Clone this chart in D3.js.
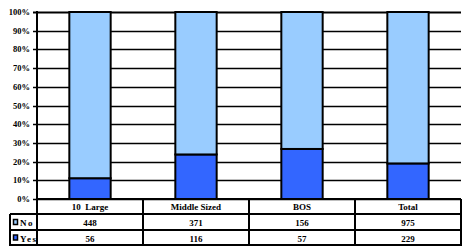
<!DOCTYPE html>
<html>
<head>
<meta charset="utf-8">
<script src="https://cdn.jsdelivr.net/npm/d3@7"></script>
<style>
  body { margin: 0; background: #fff; }
  text { font-family: "Liberation Serif", "Times New Roman", serif; font-weight: bold; fill: #000; }
</style>
</head>
<body>
<div id="chart"></div>
<script>
var width = 462,
    height = 246;

// data
var categories = ["10  Large", "Middle Sized", "BOS", "Total"];
var noCounts = [448, 371, 156, 975];
var yesCounts = [56, 116, 57, 229];
var seriesNames = ["No", "Yes"];
var tickValues = [0, 0.1, 0.2, 0.3, 0.4, 0.5, 0.6, 0.7, 0.8, 0.9, 1];

var colors = { No: "#99ccff", Yes: "#3366ff" };

var plotLeft = 37, plotRight = 461, plotTop = 12, plotBottom = 199;

var x = d3.scaleBand()
  .domain(categories)
  .range([plotLeft, plotRight])
  .paddingInner(0.61)
  .paddingOuter(0.305);

var y = d3.scaleLinear()
  .domain([0, 1])
  .range([plotBottom, plotTop]);

var cols = d3.scaleBand().domain(categories).range([plotLeft, plotRight]);

var svg = d3.select("#chart").append("svg")
  .attr("width", width)
  .attr("height", height);

// gridlines
svg.append("g")
  .selectAll("line")
  .data(tickValues)
  .enter().append("line")
  .attr("x1", plotLeft - 4)
  .attr("x2", plotRight)
  .attr("y1", function(d) { return Math.round(y(d)) + 0.5; })
  .attr("y2", function(d) { return Math.round(y(d)) + 0.5; })
  .attr("stroke", "#000")
  .attr("stroke-width", function(d) { return d == 1 ? 2 : 1.4; });

// y tick labels
svg.append("g")
  .selectAll("text")
  .data(tickValues)
  .enter().append("text")
  .attr("x", plotLeft - 7)
  .attr("y", function(d) { return y(d) + 3; })
  .attr("text-anchor", "end")
  .style("font-size", "8.5px")
  .text(function(d) { return Math.round(d * 100) + "%"; });

// stacked percentages
var rows = categories.map(function(c, i) {
  var tot = noCounts[i] + yesCounts[i];
  return { cat: c, Yes: yesCounts[i] / tot, No: noCounts[i] / tot };
});
var stack = d3.stack().keys(["Yes", "No"])(rows);

svg.append("g")
  .selectAll("g")
  .data(stack)
  .enter().append("g")
  .attr("fill", function(d) { return colors[d.key]; })
  .selectAll("rect")
  .data(function(d) { return d; })
  .enter().append("rect")
  .attr("x", function(d) { return x(d.data.cat); })
  .attr("width", x.bandwidth())
  .attr("y", function(d) { return y(d[1]); })
  .attr("height", function(d) { return y(d[0]) - y(d[1]); })
  .attr("stroke", "#000")
  .attr("stroke-width", 2);

// left axis line
svg.append("line")
  .attr("x1", plotLeft).attr("x2", plotLeft)
  .attr("y1", plotTop - 1).attr("y2", height)
  .attr("stroke", "#000").attr("stroke-width", 2);

// data table
var table = svg.append("g");
var rowLines = [plotBottom, 214, 230, 245];
table.selectAll("line.h")
  .data(rowLines)
  .enter().append("line")
  .attr("x1", function(d, i) { return i == 0 ? plotLeft : 10; })
  .attr("x2", plotRight)
  .attr("y1", function(d) { return d; })
  .attr("y2", function(d) { return d; })
  .attr("stroke", "#000")
  .attr("stroke-width", 2);

var vx = categories.slice(1).map(function(c) { return cols(c); }).concat([plotRight]);
table.selectAll("line.v")
  .data(vx)
  .enter().append("line")
  .attr("x1", function(d) { return d; })
  .attr("x2", function(d) { return d; })
  .attr("y1", plotBottom)
  .attr("y2", height)
  .attr("stroke", "#000")
  .attr("stroke-width", 2);

table.append("line")
  .attr("x1", 10).attr("x2", 10)
  .attr("y1", 214).attr("y2", height)
  .attr("stroke", "#000").attr("stroke-width", 2);

table.selectAll("text.cat")
  .data(categories)
  .enter().append("text")
  .attr("x", function(d) { return cols(d) + cols.bandwidth() / 2; })
  .attr("y", 210)
  .attr("text-anchor", "middle")
  .style("font-size", "9px")
  .style("white-space", "pre")
  .text(function(d) { return d; });

var tableRows = [noCounts, yesCounts];
tableRows.forEach(function(vals, r) {
  var ty = r == 0 ? 226 : 241.5;
  table.selectAll("text.v" + r)
    .data(vals)
    .enter().append("text")
    .attr("x", function(d, i) { return cols(categories[i]) + cols.bandwidth() / 2; })
    .attr("y", ty)
    .attr("text-anchor", "middle")
    .style("font-size", "9px")
    .text(function(d) { return d; });

  table.append("rect")
    .attr("x", 13.5)
    .attr("y", ty - 6.5)
    .attr("width", 4)
    .attr("height", 5)
    .attr("fill", colors[seriesNames[r]])
    .attr("stroke", "#000")
    .attr("stroke-width", 1.5);

  table.append("text")
    .attr("x", 20)
    .attr("y", ty)
    .style("font-size", "9px")
    .style("letter-spacing", "1.5px")
    .text(seriesNames[r]);
});
</script>
</body>
</html>
